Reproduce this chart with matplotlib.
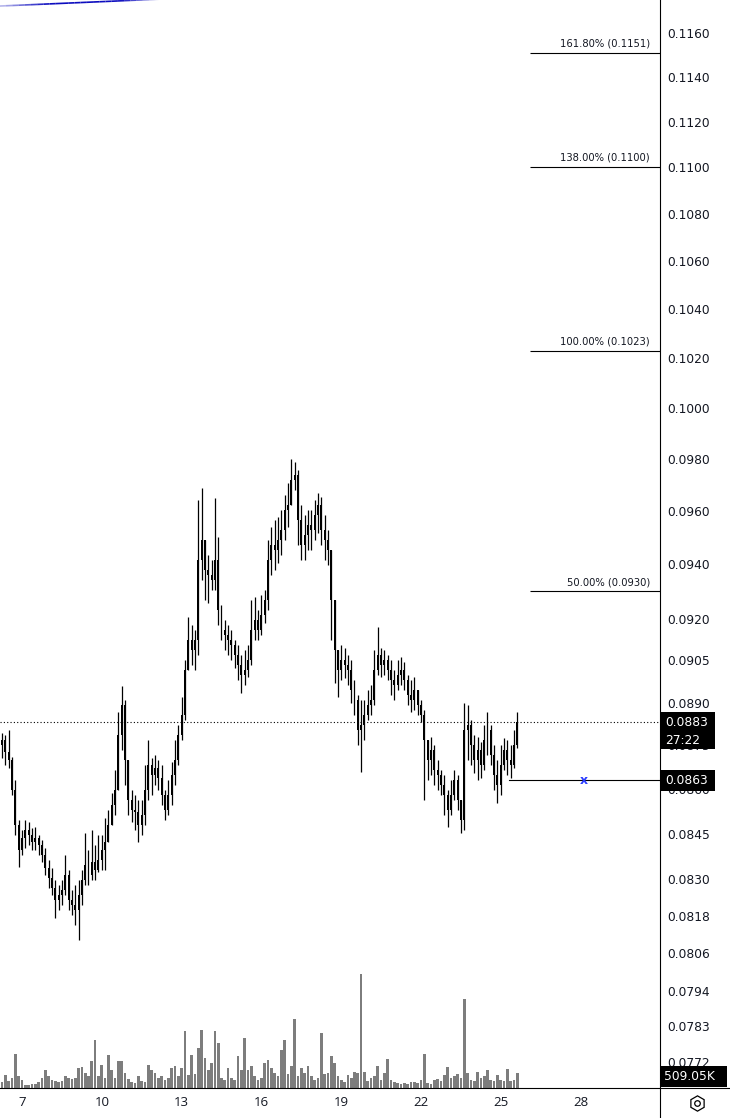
import numpy as np
import matplotlib.pyplot as plt
from matplotlib.lines import Line2D
from matplotlib.patches import Rectangle
from matplotlib.collections import LineCollection

plt.rcParams['font.family'] = ['DejaVu Sans']

# 3h candles, x = day of month
t_start = 6.125
t_step = 0.125
first_open = 0.08740

close = [
    0.08752, 0.08769, 0.08727, 0.08700, 0.08597, 0.08479, 0.08395, 0.08435, 0.08462, 0.08445,
    0.08422, 0.08435, 0.08412, 0.08379, 0.08336, 0.08303, 0.08270, 0.08231, 0.08247, 0.08263,
    0.08313, 0.08231, 0.08215, 0.08198, 0.08247, 0.08296, 0.08346, 0.08313, 0.08356, 0.08329,
    0.08362, 0.08395, 0.08422, 0.08479, 0.08546, 0.08597, 0.08786, 0.08891, 0.08700, 0.08563,
    0.08529, 0.08523, 0.08479, 0.08512, 0.08597, 0.08683, 0.08648, 0.08672, 0.08638, 0.08580,
    0.08529, 0.08580, 0.08648, 0.08700, 0.08786, 0.08856, 0.09015, 0.09123, 0.09087, 0.09123,
    0.09416, 0.09491, 0.09379, 0.09360, 0.09342, 0.09416, 0.09232, 0.09159, 0.09141, 0.09123,
    0.09105, 0.09069, 0.09033, 0.08997, 0.09015, 0.09051, 0.09159, 0.09195, 0.09159, 0.09213,
    0.09268, 0.09416, 0.09472, 0.09454, 0.09491, 0.09529, 0.09604, 0.09624, 0.09719, 0.09738,
    0.09566, 0.09472, 0.09510, 0.09548, 0.09529, 0.09585, 0.09624, 0.09529, 0.09491, 0.09454,
    0.09268, 0.09087, 0.09015, 0.09051, 0.09033, 0.09015, 0.08944, 0.08909, 0.08804, 0.08821,
    0.08856, 0.08891, 0.08909, 0.09015, 0.09069, 0.09033, 0.09051, 0.09015, 0.08980, 0.08962,
    0.08997, 0.09015, 0.08980, 0.08926, 0.08909, 0.08944, 0.08891, 0.08856, 0.08769, 0.08700,
    0.08734, 0.08665, 0.08648, 0.08614, 0.08580, 0.08529, 0.08580, 0.08631, 0.08563, 0.08496,
    0.08804, 0.08821, 0.08752, 0.08700, 0.08734, 0.08683, 0.08769, 0.08804, 0.08717, 0.08648,
    0.08614, 0.08683, 0.08734, 0.08700, 0.08683, 0.08752, 0.08830,
]
high = [
    0.08797, 0.08793, 0.08786, 0.08804, 0.08710, 0.08631, 0.08496, 0.08462, 0.08496, 0.08489,
    0.08469, 0.08472, 0.08445, 0.08429, 0.08402, 0.08362, 0.08336, 0.08296, 0.08280, 0.08296,
    0.08379, 0.08329, 0.08263, 0.08280, 0.08296, 0.08329, 0.08452, 0.08395, 0.08462, 0.08412,
    0.08445, 0.08445, 0.08503, 0.08529, 0.08587, 0.08665, 0.08867, 0.08958, 0.08909, 0.08700,
    0.08597, 0.08580, 0.08563, 0.08563, 0.08683, 0.08769, 0.08707, 0.08717, 0.08700, 0.08683,
    0.08597, 0.08631, 0.08693, 0.08769, 0.08821, 0.08919, 0.09051, 0.09206, 0.09177, 0.09159,
    0.09643, 0.09689, 0.09491, 0.09435, 0.09416, 0.09651, 0.09502, 0.09250, 0.09195, 0.09177,
    0.09159, 0.09123, 0.09105, 0.09069, 0.09087, 0.09105, 0.09268, 0.09279, 0.09232, 0.09287,
    0.09305, 0.09491, 0.09540, 0.09566, 0.09578, 0.09604, 0.09662, 0.09708, 0.09800, 0.09789,
    0.09758, 0.09624, 0.09585, 0.09604, 0.09604, 0.09643, 0.09670, 0.09655, 0.09585, 0.09529,
    0.09454, 0.09270, 0.09087, 0.09105, 0.09094, 0.09069, 0.09051, 0.08980, 0.08926, 0.08909,
    0.08909, 0.08944, 0.08962, 0.09087, 0.09170, 0.09094, 0.09087, 0.09069, 0.09051, 0.09015,
    0.09051, 0.09062, 0.09044, 0.08997, 0.08980, 0.08990, 0.08944, 0.08909, 0.08874, 0.08769,
    0.08779, 0.08752, 0.08700, 0.08665, 0.08648, 0.08597, 0.08631, 0.08665, 0.08648, 0.08563,
    0.08898, 0.08891, 0.08839, 0.08786, 0.08779, 0.08762, 0.08821, 0.08867, 0.08821, 0.08752,
    0.08700, 0.08752, 0.08776, 0.08769, 0.08752, 0.08804, 0.08867,
]
low = [
    0.08727, 0.08707, 0.08683, 0.08672, 0.08580, 0.08445, 0.08339, 0.08379, 0.08402, 0.08412,
    0.08395, 0.08395, 0.08379, 0.08356, 0.08313, 0.08270, 0.08247, 0.08172, 0.08198, 0.08215,
    0.08247, 0.08198, 0.08182, 0.08150, 0.08102, 0.08215, 0.08280, 0.08280, 0.08296, 0.08296,
    0.08323, 0.08329, 0.08329, 0.08422, 0.08479, 0.08512, 0.08597, 0.08734, 0.08614, 0.08512,
    0.08489, 0.08462, 0.08422, 0.08445, 0.08479, 0.08563, 0.08580, 0.08614, 0.08597, 0.08546,
    0.08496, 0.08512, 0.08546, 0.08614, 0.08683, 0.08769, 0.08839, 0.09015, 0.09033, 0.09015,
    0.09069, 0.09342, 0.09268, 0.09257, 0.09305, 0.09305, 0.09177, 0.09123, 0.09087, 0.09069,
    0.09051, 0.09022, 0.08980, 0.08933, 0.08962, 0.08990, 0.09033, 0.09123, 0.09123, 0.09141,
    0.09184, 0.09232, 0.09360, 0.09379, 0.09405, 0.09435, 0.09491, 0.09540, 0.09624, 0.09681,
    0.09472, 0.09416, 0.09416, 0.09454, 0.09454, 0.09491, 0.09517, 0.09472, 0.09416, 0.09398,
    0.09123, 0.08969, 0.08919, 0.08980, 0.08987, 0.08962, 0.08898, 0.08856, 0.08752, 0.08658,
    0.08769, 0.08839, 0.08856, 0.08891, 0.08997, 0.08990, 0.08997, 0.08980, 0.08926, 0.08909,
    0.08944, 0.08962, 0.08944, 0.08891, 0.08867, 0.08874, 0.08856, 0.08832, 0.08563, 0.08631,
    0.08648, 0.08614, 0.08597, 0.08580, 0.08512, 0.08472, 0.08512, 0.08563, 0.08529, 0.08452,
    0.08462, 0.08700, 0.08683, 0.08655, 0.08631, 0.08638, 0.08665, 0.08717, 0.08683, 0.08597,
    0.08553, 0.08580, 0.08665, 0.08648, 0.08638, 0.08672, 0.08741,
]
volume_k = [
    204, 204, 442, 238, 340, 1156, 408, 272, 102, 102,
    136, 136, 204, 340, 612, 408, 272, 238, 204, 238,
    408, 340, 306, 340, 680, 714, 510, 408, 918, 1632,
    408, 782, 340, 1122, 612, 340, 918, 918, 510, 306,
    204, 170, 408, 238, 204, 782, 612, 510, 340, 408,
    272, 340, 680, 748, 408, 680, 1938, 442, 1122, 476,
    1360, 1972, 1020, 612, 850, 1938, 1530, 340, 272, 680,
    340, 272, 1088, 612, 1700, 612, 748, 408, 272, 340,
    850, 952, 680, 510, 408, 1292, 1632, 476, 748, 2346,
    408, 680, 510, 748, 408, 272, 340, 1870, 476, 510,
    1088, 850, 408, 272, 204, 442, 340, 544, 510, 3876,
    544, 238, 340, 408, 748, 272, 510, 986, 272, 204,
    170, 136, 170, 136, 204, 204, 170, 272, 1156, 170,
    136, 272, 306, 238, 442, 714, 340, 408, 476, 340,
    3026, 510, 272, 238, 544, 340, 408, 612, 272, 238,
    442, 272, 238, 646, 238, 272, 509.05,
]

price_ticks = [0.0772, 0.0783, 0.0794, 0.0806, 0.0818, 0.0830, 0.0845, 0.0860, 0.0875,
               0.0890, 0.0905, 0.0920, 0.0940, 0.0960, 0.0980, 0.1000, 0.1020, 0.1040,
               0.1060, 0.1080, 0.1100, 0.1120, 0.1140, 0.1160]
date_ticks = [7, 10, 13, 16, 19, 22, 25, 28]

fib_levels = [0.0930, 0.1023, 0.1100, 0.1151]
fib_pcts = ['50.00%', '100.00%', '138.00%', '161.80%']
fib_start = 26.1

last_price = 0.0883
countdown = '27:22'
order_price = 0.0863
order_start = 25.31
order_mark = 28.13
last_volume = '509.05K'

trend_t = [6.17, 12.94]
trend_p = [0.11724, 0.11760]

xlim = (6.173, 30.985)
ylim = (0.07641, 0.11752)

W, H = 730, 1118
fig = plt.figure(figsize=(W / 100, H / 100), dpi=100)
rect = [0, 30 / H, 660 / W, 1088 / H]

# volume pane (behind)
vax = fig.add_axes(rect)
t = t_start + t_step * np.arange(len(close))
vax.bar(t, volume_k, width=0.1, color='#7d7d7d', linewidth=0)
vax.set_xlim(*xlim)
vax.set_ylim(0, 37000)
vax.axis('off')

ax = fig.add_axes(rect)
ax.patch.set_visible(False)
ax.set_yscale('log')

c = np.array(close)
o = np.array([first_open] + close[:-1])
ax.vlines(t, low, high, color='black', lw=0.9)
ax.bar(t, np.abs(c - o), bottom=np.minimum(o, c), width=0.075, color='black', linewidth=0)

ax.axhline(last_price, color='black', lw=0.8, ls=(0, (1, 2)))
ax.plot([order_start, xlim[1]], [order_price, order_price], color='black', lw=0.8)
ax.text(order_mark, order_price, 'x', color='#2a3cff', ha='center', va='center',
        fontsize=9, fontweight='bold')

ax.hlines(fib_levels, fib_start, xlim[1], color='black', lw=0.8)
for lvl, pct in zip(fib_levels, fib_pcts):
    ax.annotate(f'{pct} ({lvl:.4f})', (30.61, lvl), xytext=(0, 3), textcoords='offset points',
                ha='right', va='bottom', fontsize=7.2, color='#131722')

# trend line running off the top edge, faded ends
tt = np.linspace(trend_t[0], trend_t[1], 30)
pp = np.interp(tt, trend_t, trend_p)
segs = [[(tt[k], pp[k]), (tt[k + 1], pp[k + 1])] for k in range(len(tt) - 1)]
alphas = np.clip(np.minimum(np.linspace(0.3, 3, len(segs)), np.linspace(3, 0, len(segs))), 0, 1)
ax.add_collection(LineCollection(segs, colors=[(0.05, 0.05, 0.75, a) for a in alphas], lw=1.2))

ax.set_xlim(*xlim)
ax.set_ylim(*ylim)
ax.yaxis.tick_right()
ax.set_yticks(price_ticks)
ax.set_yticklabels([f'{v:.4f}' for v in price_ticks])
ax.yaxis.set_minor_locator(plt.NullLocator())
ax.tick_params(axis='y', length=0, pad=5, labelsize=8.8, labelcolor='#131722')
ax.set_xticks(date_ticks)
ax.set_xticklabels([str(d) for d in date_ticks], family=['Open Sans', 'DejaVu Sans'])
ax.tick_params(axis='x', length=0, pad=6, labelsize=9.5, labelcolor='#131722')
for s in ax.spines.values():
    s.set_visible(False)

# frame lines
fig.add_artist(Line2D([660 / W, 660 / W], [0, 1], color='black', lw=0.8))
fig.add_artist(Line2D([0, 1], [30 / H, 30 / H], color='black', lw=0.8))


def box(y_disp, top, bottom, right, lines):
    fig.add_artist(Rectangle((661 / W, (y_disp - bottom) / H), (right - 661) / W,
                             (top + bottom) / H, transform=fig.transFigure,
                             facecolor='black', edgecolor='none', zorder=5))
    for k, txt in enumerate(lines):
        fig.text(665 / W, (y_disp - 18 * k) / H, txt, color='white', fontsize=8.8,
                 va='center', ha='left', zorder=6)


fig.canvas.draw()
y_last = ax.transData.transform((xlim[0], last_price))[1]
y_order = ax.transData.transform((xlim[0], order_price))[1]
box(y_last, 10, 27, 715, [f'{last_price:.4f}', countdown])
box(y_order, 10.5, 10.5, 715, [f'{order_price:.4f}'])
fig.add_artist(Rectangle((661 / W, 31 / H), 66 / W, 21 / H, transform=fig.transFigure,
                         facecolor='black', edgecolor='none', zorder=5))
fig.text(664 / W, 41.5 / H, last_volume, color='white', fontsize=8.8, va='center', zorder=6)

# settings icon
fig.add_artist(Line2D([697 / W], [15 / H], marker='h', markersize=11, mfc='none',
                      mec='black', mew=0.9, transform=fig.transFigure))
fig.add_artist(Line2D([697 / W], [15 / H], marker='o', markersize=4, mfc='none',
                      mec='black', mew=0.9, transform=fig.transFigure))

fig.savefig('out.png', dpi=100)
plt.close(fig)
